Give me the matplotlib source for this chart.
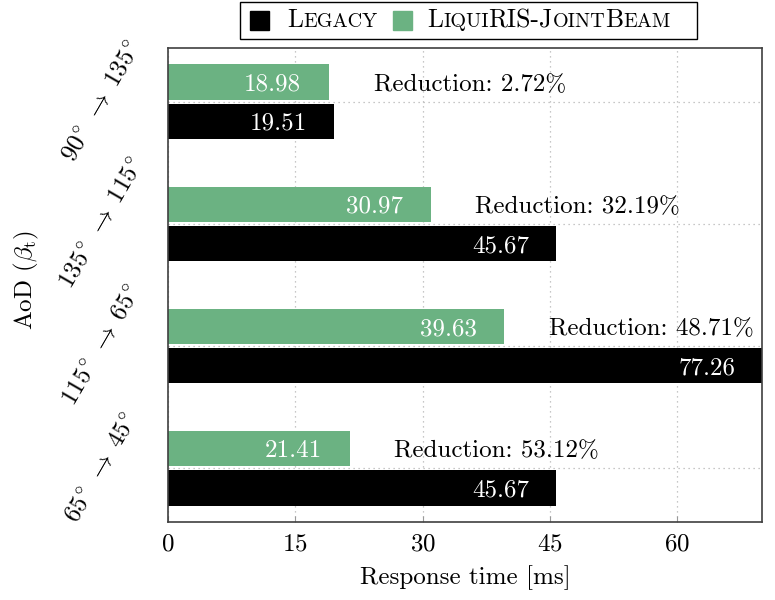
import numpy as np
import matplotlib
matplotlib.use('Agg')
import matplotlib.pyplot as plt
from matplotlib.patches import Rectangle
from matplotlib.transforms import blended_transform_factory

plt.rcParams['font.family'] = 'cmr10'
plt.rcParams['mathtext.fontset'] = 'cm'
plt.rcParams['axes.formatter.use_mathtext'] = True
plt.rcParams['font.size'] = 18

# groups listed top to bottom
groups = [r'$90^{\!\circ}\;\rightarrow\;135^{\!\circ}$',
          r'$135^{\!\circ}\;\rightarrow\;115^{\!\circ}$',
          r'$115^{\!\circ}\;\rightarrow\;65^{\!\circ}$',
          r'$65^{\!\circ}\;\rightarrow\;45^{\!\circ}$']
legacy = [19.51, 45.67, 77.26, 45.67]
liquiris = [18.98, 30.97, 39.63, 21.41]
reduction = [2.72, 32.19, 48.71, 53.12]
xticks = [0, 15, 30, 45, 60]
xmax = 70

green = '#6bb282'
W, H = 775, 600

fig = plt.figure(figsize=(W / 100, H / 100), dpi=100)
ax = fig.add_axes([168 / W, 78 / H, 594 / W, 474 / H])

ypos = np.arange(len(groups))[::-1]
ax.barh(ypos + 0.16, liquiris, height=0.29, color=green, zorder=2)
ax.barh(ypos - 0.16, legacy, height=0.29, color='black', zorder=2)
ax.set_xlim(0, xmax)
ax.set_ylim(-0.44, 3.44)

# value labels inside bars
for y, v in zip(ypos + 0.16, liquiris):
    ax.annotate(f'{v:.2f}', xy=(min(v, xmax), y), xytext=(-20, 0),
                textcoords='offset points', ha='right', va='center_baseline',
                color='white')
for y, v in zip(ypos - 0.16, legacy):
    ax.annotate(f'{v:.2f}', xy=(min(v, xmax), y), xytext=(-19, 0),
                textcoords='offset points', ha='right', va='center_baseline',
                color='white', zorder=5)
for y, v, r in zip(ypos + 0.16, liquiris, reduction):
    ax.annotate(f'Reduction: {r:.2f}%', xy=(v, y), xytext=(32, 0),
                textcoords='offset points', ha='left', va='center_baseline')

# axes styling
ax.set_xticks(xticks)
ax.set_yticks(ypos)
ax.set_yticklabels([])
ax.tick_params(axis='y', length=0)
ax.tick_params(axis='x', direction='in', length=4, color='#999999', pad=8,
               labelsize=18)
ax.grid(True, linestyle=(0, (1, 3)), color='#b5b5b5', linewidth=0.9)
ax.set_axisbelow(True)
for s in ax.spines.values():
    s.set_color('#404040')
    s.set_linewidth(1.2)
ax.set_xlabel('Response time [ms]', labelpad=7)

trans = blended_transform_factory(ax.transAxes, ax.transData)
for y, g in zip(ypos, groups):
    ax.text(-0.11, y, g, transform=trans, rotation=60, ha='center',
            va='center')
fig.text(26 / W, 1 - 280 / H, r'AoD ($\beta_{\mathrm{t}}$)', rotation=90,
         ha='center', va='center')

# legend with small caps, drawn by hand
big, small = 18.5, 14.5
fig.patches.append(Rectangle((240 / W, 1 - 39 / H), 457 / W, 37 / H,
                             transform=fig.transFigure, fill=False,
                             edgecolor='black', linewidth=1))
fig.patches.append(Rectangle((250 / W, 1 - 30 / H), 19 / W, 19 / H,
                             transform=fig.transFigure, color='black'))
fig.patches.append(Rectangle((393 / W, 1 - 30 / H), 19 / W, 19 / H,
                             transform=fig.transFigure, color=green))

legend_labels = [
    (287, [('L', big), ('EGACY', small)]),
    (427, [('L', big), ('IQUI', small), ('RIS-J', big), ('OINT', small),
           ('B', big), ('EAM', small)]),
]
renderer = fig.canvas.get_renderer()
for x0, pieces in legend_labels:
    x = x0
    for s, fs in pieces:
        t = fig.text(x / W, 1 - 27 / H, s, fontsize=fs, ha='left',
                     va='baseline')
        x += t.get_window_extent(renderer).width

fig.savefig('out.png', dpi=100)
